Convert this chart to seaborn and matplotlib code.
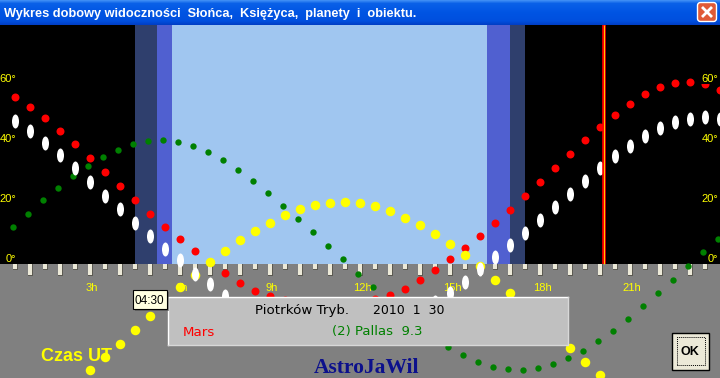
import numpy as np
import matplotlib
matplotlib.use("Agg")
import matplotlib.pyplot as plt
from matplotlib.patches import Rectangle, FancyBboxPatch
from matplotlib.path import Path
from matplotlib.transforms import Affine2D, ScaledTranslation
import seaborn as sns

# ---------------- data ----------------
times_h = np.arange(1, 49) * 0.5          # 0.5 h ... 24.0 h (UT), every 30 min

mars_alt = [55.7, 52.3, 48.8, 44.3, 40.1, 35.4, 30.8, 26.1, 21.4, 16.8, 12.3, 8.3,
            4.4, 0.6, -3.0, -6.3, -9.0, -10.8, -12.0, -12.8, -13.3, -13.4, -13.2, -12.6,
            -11.7, -10.4, -8.2, -5.2, -1.9, 1.8, 5.4, 9.4, 13.7, 18.1, 22.7, 27.4,
            32.1, 36.8, 41.4, 45.7, 49.7, 53.3, 56.8, 59.0, 60.3, 60.8, 59.9, 58.1]

moon_alt = [47.7, 44.3, 40.3, 36.3, 32.1, 27.3, 22.8, 18.3, 13.7, 9.3, 5.1, 1.2,
            -3.4, -6.8, -10.5, -13.5, -16.0, -18.2, -20.0, -21.4, -22.4, -22.9, -23.0, -22.5,
            -21.5, -20.0, -18.0, -15.6, -12.8, -9.6, -6.0, -1.6, 2.3, 6.4, 10.4, 14.8,
            19.0, 23.4, 27.8, 32.1, 36.1, 39.4, 42.8, 45.4, 47.4, 48.4, 49.0, 48.4]

pallas_alt = [12.2, 16.6, 21.2, 25.2, 29.2, 32.6, 35.6, 37.9, 39.9, 40.9, 41.2, 40.6,
              39.2, 37.2, 34.6, 31.2, 27.6, 23.6, 19.2, 14.9, 10.6, 5.9, 1.6, -3.2,
              -7.8, -12.2, -16.4, -20.4, -24.2, -27.7, -30.4, -32.7, -34.3, -35.1, -35.4, -34.8,
              -33.4, -31.4, -29.0, -25.8, -22.4, -18.4, -14.1, -9.8, -5.4, -0.6, 3.9, 8.2]

sun_times_h = np.arange(6, 41) * 0.5      # 3.0 h ... 20.0 h
sun_alt = [-35.4, -31.0, -26.6, -21.9, -17.2, -12.6, -7.7, -3.5, 0.6, 4.3, 7.9, 11.0,
           13.7, 16.4, 18.4, 19.8, 20.4, 20.8, 20.4, 19.3, 17.8, 15.4, 13.0, 10.1,
           6.8, 3.0, -0.8, -5.2, -9.6, -14.0, -18.6, -23.2, -27.9, -32.6, -37.1]

hour_label_pos = [3, 6, 9, 12, 15, 18, 21]
hour_labels = ["3h", "6h", "9h", "12h", "15h", "18h", "21h"]
alt_label_vals = [0, 20, 40, 60]
alt_labels = ["0°", "20°", "40°", "60°"]
tick_times = np.arange(1, 48) * 0.5       # half-hour marks on the horizon

band_edges = [0.0, 4.5, 5.233, 5.733, 16.222, 17.0, 17.5, 24.0]
band_colors = ["#000000", "#2f3f6d", "#5060d0", "#a0c6f0", "#5060d0", "#2f3f6d", "#000000"]

now_time_h = 20.117
tooltip_text = "04:30"
place_text = "Piotrków Tryb."
date_text = "2010  1  30"
planet_text = "Mars"
object_text = "(2) Pallas  9.3"
title_text = "Wykres dobowy widoczności  Słońca,  Księżyca,  planety  i  obiektu."

# ---------------- figure ----------------
plt.rcParams['font.family'] = ['DejaVu Sans']
W, H = 720, 378
fig = plt.figure(figsize=(W / 100, H / 100), dpi=100, facecolor="#808080")

top_px = 25
ax = fig.add_axes([0, 0, 1, (H - top_px) / H])
ax.axis("off")
YMIN, YMAX = -38.0, (264 - top_px) / 3.0
ax.set_xlim(0, 24)
ax.set_ylim(YMIN, YMAX)

# sky bands and ground
for x0, x1, c in zip(band_edges[:-1], band_edges[1:], band_colors):
    ax.add_patch(Rectangle((x0, 0), x1 - x0, YMAX, facecolor=c, edgecolor="none", zorder=1))
ax.add_patch(Rectangle((0, YMIN), 24, -YMIN, facecolor="#808080", edgecolor="none", zorder=1))

# horizon ticks (3D look)
px_h = 1 / 30.0
px_d = 1 / 3.0
tick_len = [(-11 if abs(t - round(t)) < 1e-6 else -5) * px_d for t in tick_times]
ax.bar(tick_times + 0.5 * px_h, [l - px_d for l in tick_len], width=5 * px_h, bottom=0,
       color="#5c5a52", linewidth=0, zorder=2)
ax.bar(tick_times, tick_len, width=4 * px_h, bottom=0, color="#ece9d8", linewidth=0, zorder=2.1)

# hour labels
lab_font = dict(family=["Liberation Sans", "DejaVu Sans"], size=8, color="#ffff00")
for p, s in zip(hour_label_pos, hour_labels):
    ax.text(p + 0.07, -9.0, s, ha="center", va="baseline", zorder=3, **lab_font)

# series
sns.scatterplot(x=times_h, y=mars_alt, ax=ax, color="#ff0000", s=33, linewidth=0,
                marker="o", zorder=4, legend=False)
green_tr = ax.transData + ScaledTranslation(-1.7 / 100, 0, fig.dpi_scale_trans)
sns.scatterplot(x=times_h, y=pallas_alt, ax=ax, color="#008000", s=21, linewidth=0,
                marker="o", zorder=5, legend=False, transform=green_tr)
sns.scatterplot(x=sun_times_h, y=sun_alt, ax=ax, color="#ffff00", s=47, linewidth=0,
                marker="o", zorder=6, legend=False)
ellipse = Path.unit_circle().transformed(Affine2D().scale(0.5, 1.0))
sns.scatterplot(x=times_h, y=moon_alt, ax=ax, color="#ffffff", s=102, linewidth=0,
                marker=ellipse, zorder=7, legend=False)

# current time line (red with thin yellow core)
ax.plot([now_time_h, now_time_h], [0, YMAX], color="#ff0000", lw=2.6, zorder=8,
        solid_capstyle="butt")
ax.plot([now_time_h, now_time_h], [0, YMAX], color="#ffff00", lw=0.55, zorder=8.1,
        solid_capstyle="butt")

# altitude labels (left and right)
for v, s in zip(alt_label_vals, alt_labels):
    for xpos in (16.3 * px_h, 718.5 * px_h):
        ax.text(xpos, v + 0.67, s, ha="right", va="baseline", zorder=9,
                bbox=dict(facecolor="black", edgecolor="none", pad=0.3), **lab_font)

# ground texts
ax.text(40.7 * px_h, -32.33, "Czas UT", ha="left", va="baseline", color="#ffff00",
        family=["Liberation Sans", "DejaVu Sans"], weight="bold", size=13, zorder=10)
ax.text(12.22, -36.33, "AstroJaWil", ha="center", va="baseline", color="#0c108c",
        family=["Liberation Serif", "DejaVu Serif"], weight="bold", size=15.5, zorder=10)

# info box
bx0, bx1 = 168 * px_h, 568 * px_h
by0, by1 = -27.0, -11.0
ax.add_patch(Rectangle((bx0, by0), bx1 - bx0, by1 - by0, facecolor="#c0c0c0",
                       edgecolor="none", zorder=11))
ax.plot([bx0, bx0, bx1], [by0, by1, by1], color="#ffffff", lw=1.0, zorder=11.1)
ax.plot([bx0, bx1, bx1], [by0, by0, by1], color="#d8d8d8", lw=1.0, zorder=11.1)
box_font = dict(family=["DejaVu Sans"], zorder=11.2, va="baseline", ha="left")
ax.text(255 * px_h, -16.67, place_text, color="black", size=9.6, **box_font)
ax.text(373.3 * px_h, -16.67, date_text, color="black", size=9, **box_font)
ax.text(182.7 * px_h, -24.0, planet_text, color="#ff0000", size=9.6, **box_font)
ax.text(331.7 * px_h, -23.67, object_text, color="#008000", size=9.5, **box_font)

# tooltip
tx0, tx1 = 133 * px_h, 167 * px_h
ty0, ty1 = -15.0, -8.67
ax.add_patch(Rectangle((tx0 + 2 * px_h, ty0 - 2 * px_d), tx1 - tx0, ty1 - ty0,
                       facecolor="#505050", edgecolor="none", alpha=0.6, zorder=12))
ax.add_patch(Rectangle((tx0, ty0), tx1 - tx0, ty1 - ty0, facecolor="#ffffe1",
                       edgecolor="black", lw=0.8, zorder=12.1))
ax.text(149.5 * px_h, -13.33, tooltip_text, ha="center", va="baseline", color="black",
        family=["Liberation Sans", "DejaVu Sans"], size=8.5, zorder=12.2)

# OK button
ok0, ok1 = 672.3 * px_h, 708.7 * px_h
oy0, oy1 = -35.23, -23.0
ax.add_patch(Rectangle((ok0, oy0), ok1 - ok0, oy1 - oy0, facecolor="#ece9d8",
                       edgecolor="black", lw=1.0, zorder=13))
ax.add_patch(Rectangle((676.7 * px_h, -33.57), (705 - 676.7) * px_h, 9.24,
                       facecolor="none", edgecolor="black", lw=0.7, ls=(0, (1, 1)), zorder=13.1))
ax.text(690 * px_h, -30.43, "OK", ha="center", va="baseline", color="black",
        family=["Liberation Sans", "DejaVu Sans"], weight="bold", size=9, zorder=13.2)

# ---------------- window title bar (pixel overlay) ----------------
ov = fig.add_axes([0, 0, 1, 1], zorder=20)
ov.axis("off")
stops = [(0.0, (0.24, 0.55, 0.96)), (0.12, (0.04, 0.38, 0.91)), (0.5, (0.0, 0.33, 0.89)),
         (0.85, (0.0, 0.31, 0.87)), (1.0, (0.0, 0.25, 0.78))]
rows = []
for i in range(25):
    f = i / 24
    for (a, ca), (b, cb) in zip(stops[:-1], stops[1:]):
        if a <= f <= b:
            t = (f - a) / (b - a)
            rows.append([tuple(ca[k] + (cb[k] - ca[k]) * t for k in range(3))])
            break
grad = np.array(rows)
ov.imshow(grad, extent=(0, W, top_px, 0), aspect="auto", interpolation="bilinear")
ov.set_xlim(0, W)
ov.set_ylim(H, 0)
ov.text(4, 16.7, title_text, ha="left", va="baseline", color="white",
        family=["Liberation Sans", "DejaVu Sans"], weight="bold", size=9.2)
ov.add_patch(FancyBboxPatch((697.5, 2.5), 19, 19, boxstyle="round,pad=0,rounding_size=3",
                            facecolor="#e05a36", edgecolor="white", lw=1.0))
ov.plot([702, 712], [7, 17], color="white", lw=2.0, solid_capstyle="butt")
ov.plot([702, 712], [17, 7], color="white", lw=2.0, solid_capstyle="butt")

fig.savefig("out.png", dpi=100, facecolor=fig.get_facecolor())
